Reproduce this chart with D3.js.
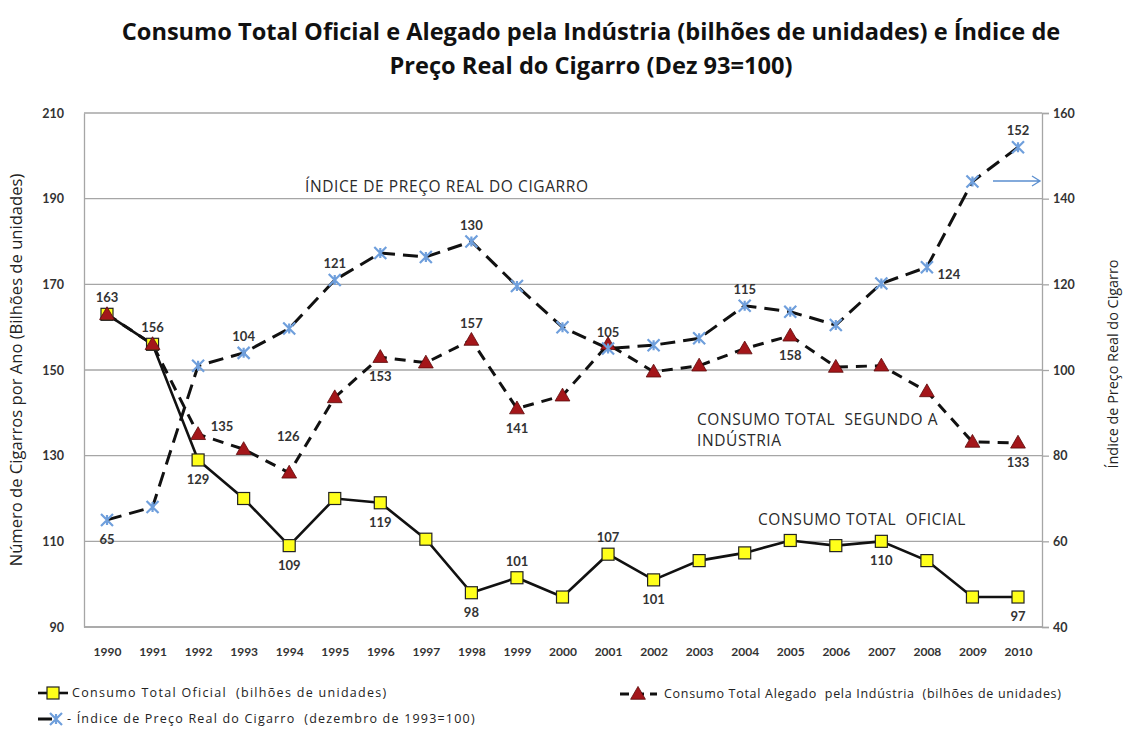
<!DOCTYPE html>
<html>
<head>
<meta charset="utf-8">
<script src="https://cdn.jsdelivr.net/npm/d3@7"></script>
<style>
  body { margin: 0; background: #fff; }
  svg { display: block; font-family: Lato, "Open Sans", sans-serif; }
  .pre { white-space: pre; }
</style>
</head>
<body>
<svg id="chart" width="1125" height="731"></svg>
<script>
// Years on the horizontal axis
const years = [1990,1991,1992,1993,1994,1995,1996,1997,1998,1999,2000,2001,2002,2003,2004,2005,2006,2007,2008,2009,2010];

// Official total consumption (billions of units) - left axis
const oficial = [163,156,129,120,109,120,119,110.5,98,101.5,97,107,101,105.5,107.3,110.2,109,110,105.5,97,97];

// Total consumption claimed by industry (billions of units) - left axis
const alegado = [163,156,135,131.5,126,143.6,153,151.7,157,141,144,156,149.6,151,155,158,150.7,151,145,133.2,133];

// Real cigarette price index (Dec 93 = 100) - right axis
const indice = [65,68,101,104,109.7,121,127.3,126.4,130,119.6,110,105,105.8,107.4,115,113.6,110.5,120.2,124,144,152];

const leftTicks = [90,110,130,150,170,190,210];
const rightTicks = [40,60,80,100,120,140,160];

// Value labels: year index, text, placement
const oficialLabels = [[0,"163","above"],[1,"156","above"],[2,"129","below"],[4,"109","below"],[6,"119","below"],[8,"98","below"],[9,"101","above"],[11,"107","above"],[12,"101","below"],[17,"110","below"],[20,"97","below"]];
const alegadoLabels = [[2,"135","right"],[4,"126","high"],[6,"153","below"],[8,"157","above"],[9,"141","below"],[15,"158","below"],[20,"133","below"]];
const indiceLabels = [[0,"65","below"],[3,"104","above"],[5,"121","above"],[8,"130","above"],[11,"105","above"],[14,"115","above"],[18,"124","rightLow"],[20,"152","above"]];

const svg = d3.select("#chart");
const plot = {left: 84, right: 1042, top: 113, bottom: 627};

const x = d3.scalePoint().domain(years).range([107, 1018]);
const yL = d3.scaleLinear().domain([90, 210]).range([plot.bottom, plot.top]);
const yR = d3.scaleLinear().domain([40, 160]).range([plot.bottom, plot.top]);

// Title
const title = svg.append("text")
  .attr("text-anchor", "middle").attr("font-family", "'Open Sans', sans-serif")
  .attr("font-size", 23.6).attr("font-weight", 700).attr("fill", "#111");
title.append("tspan").attr("x", 591).attr("y", 40)
  .text("Consumo Total Oficial e Alegado pela Indústria (bilhões de unidades) e Índice de");
title.append("tspan").attr("x", 591).attr("y", 74)
  .text("Preço Real do Cigarro (Dez 93=100)");

// Gridlines
svg.append("g").selectAll("line").data(leftTicks).join("line")
  .attr("x1", plot.left).attr("x2", plot.right)
  .attr("y1", d => yL(d)).attr("y2", d => yL(d))
  .attr("stroke", "#a6a6a6").attr("stroke-width", 1.3);

// Left axis
const gL = svg.append("g").attr("transform", `translate(${plot.left},0)`)
  .call(d3.axisLeft(yL).tickValues(leftTicks).tickSize(0).tickPadding(20));
gL.select(".domain").attr("stroke", "#a6a6a6").attr("stroke-width", 1.3);
gL.selectAll("text").attr("font-size", 12.5).attr("font-weight", 700)
  .attr("fill", "#333").attr("font-family", "Lato, sans-serif");

// Right axis
const gR = svg.append("g").attr("transform", `translate(${plot.right},0)`)
  .call(d3.axisRight(yR).tickValues(rightTicks).tickSize(7).tickPadding(4));
gR.select(".domain").attr("stroke", "#a6a6a6").attr("stroke-width", 1.3);
gR.selectAll(".tick line").attr("stroke", "#a6a6a6").attr("stroke-width", 1.3);
gR.selectAll("text").attr("font-size", 12.5).attr("font-weight", 700)
  .attr("fill", "#333").attr("font-family", "Lato, sans-serif");

// Bottom axis (year labels)
const gX = svg.append("g").attr("transform", `translate(0,${plot.bottom})`)
  .call(d3.axisBottom(x).tickSize(0).tickPadding(20));
gX.select(".domain").attr("d", `M${plot.left},0H${plot.right}`)
  .attr("stroke", "#a6a6a6").attr("stroke-width", 1.3);
gX.selectAll("text").attr("font-size", 12).attr("font-weight", 700)
  .attr("fill", "#333").attr("font-family", "Lato, sans-serif");

// Axis titles
svg.append("text")
  .attr("transform", "translate(22,370) rotate(-90)")
  .attr("text-anchor", "middle").attr("font-family", "'Open Sans', sans-serif")
  .attr("font-size", 16.6).attr("fill", "#222")
  .text("Número de Cigarros por Ano (Bilhões de unidades)");
svg.append("text")
  .attr("transform", "translate(1118,364) rotate(-90)")
  .attr("text-anchor", "middle").attr("font-family", "'Open Sans', sans-serif")
  .attr("font-size", 14.4).attr("fill", "#222")
  .text("Índice de Preço Real do Cigarro");

// Series lines
const lineL = d3.line().x((d, i) => x(years[i])).y(d => yL(d));
const lineR = d3.line().x((d, i) => x(years[i])).y(d => yR(d));

svg.append("path").datum(indice).attr("d", lineR)
  .attr("fill", "none").attr("stroke", "#111").attr("stroke-width", 3)
  .attr("stroke-dasharray", "15,8");
svg.append("path").datum(alegado).attr("d", lineL)
  .attr("fill", "none").attr("stroke", "#111").attr("stroke-width", 3)
  .attr("stroke-dasharray", "11,8");
svg.append("path").datum(oficial).attr("d", lineL)
  .attr("fill", "none").attr("stroke", "#111").attr("stroke-width", 2.6);

// Markers
const triPath = d3.symbol().type(d3.symbolTriangle).size(95);
function starMarker(g, cx, cy) {
  const r = 6;
  g.append("path")
    .attr("d", `M${cx - r},${cy - r}L${cx + r},${cy + r}M${cx - r},${cy + r}L${cx + r},${cy - r}M${cx},${cy - r + 1}L${cx},${cy + r - 1}`)
    .attr("stroke", "#6f9fdc").attr("stroke-width", 2.2).attr("fill", "none");
}

svg.append("g").selectAll("rect").data(oficial).join("rect")
  .attr("x", (d, i) => x(years[i]) - 6).attr("y", d => yL(d) - 6)
  .attr("width", 12).attr("height", 12)
  .attr("fill", "#ffff1a").attr("stroke", "#222").attr("stroke-width", 1.2);

svg.append("g").selectAll("path").data(alegado).join("path")
  .attr("transform", (d, i) => `translate(${x(years[i])},${yL(d) + 1})`)
  .attr("d", triPath)
  .attr("fill", "#a4161a").attr("stroke", "#5a0a0a").attr("stroke-width", 0.8);

const gStar = svg.append("g");
indice.forEach((d, i) => starMarker(gStar, x(years[i]), yR(d)));

// Value labels
function offset(pos) {
  if (pos === "above") return [0, -12];
  if (pos === "high") return [-1, -32];
  if (pos === "below") return [0, 24];
  if (pos === "rightLow") return [22, 12];
  if (pos === "right") return [24, -3];
  return [0, 0];
}
function addLabels(list, values, scale) {
  svg.append("g").selectAll("text").data(list).join("text")
    .attr("x", d => x(years[d[0]]) + offset(d[2])[0])
    .attr("y", d => scale(values[d[0]]) + offset(d[2])[1])
    .attr("text-anchor", "middle").attr("font-size", 13)
    .attr("fill", "#333").attr("font-weight", 700)
    .text(d => d[1]);
}
addLabels(oficialLabels, oficial, yL);
addLabels(alegadoLabels, alegado, yL);
addLabels(indiceLabels, indice, yR);

// In-plot annotations
const ann = svg.append("g").attr("font-size", 15.5).attr("fill", "#2a2a2a")
  .attr("letter-spacing", 0.6).attr("font-family", "'Open Sans', sans-serif");
ann.append("text").attr("x", 305).attr("y", 192).text("ÍNDICE DE PREÇO REAL DO CIGARRO");
ann.append("text").attr("class", "pre").attr("x", 697).attr("y", 425).text("CONSUMO TOTAL  SEGUNDO A");
ann.append("text").attr("x", 697).attr("y", 446).text("INDÚSTRIA");
ann.append("text").attr("class", "pre").attr("x", 758).attr("y", 525).text("CONSUMO TOTAL  OFICIAL");

// Arrow pointing to the right axis
svg.append("path").attr("d", "M993,181H1040M1032,176L1040,181L1032,186")
  .attr("stroke", "#5b8fd0").attr("stroke-width", 1.3).attr("fill", "none");

// Legend
const leg = svg.append("g").attr("font-size", 12.5).attr("fill", "#222")
  .attr("font-family", "'Open Sans', sans-serif");
leg.append("line").attr("x1", 38).attr("x2", 68).attr("y1", 693).attr("y2", 693)
  .attr("stroke", "#111").attr("stroke-width", 2.6);
leg.append("rect").attr("x", 47).attr("y", 687).attr("width", 12).attr("height", 12)
  .attr("fill", "#ffff1a").attr("stroke", "#222").attr("stroke-width", 1.2);
leg.append("text").attr("class", "pre").attr("x", 72).attr("y", 697)
  .attr("letter-spacing", 1.3).text("Consumo Total Oficial  (bilhões de unidades)");

leg.append("path").attr("d", "M620,694H657").attr("stroke", "#111").attr("stroke-width", 3)
  .attr("stroke-dasharray", "9,6");
leg.append("path").attr("transform", "translate(638,695)").attr("d", triPath)
  .attr("fill", "#a4161a").attr("stroke", "#5a0a0a").attr("stroke-width", 0.8);
leg.append("text").attr("class", "pre").attr("x", 664).attr("y", 698)
  .attr("letter-spacing", 0.7).text("Consumo Total Alegado  pela Indústria  (bilhões de unidades)");

leg.append("path").attr("d", "M38,719H52").attr("stroke", "#111").attr("stroke-width", 3);
starMarker(leg, 56, 719);
leg.append("text").attr("class", "pre").attr("x", 67).attr("y", 723)
  .attr("letter-spacing", 1.2).text("- Índice de Preço Real do Cigarro  (dezembro de 1993=100)");
</script>
</body>
</html>
